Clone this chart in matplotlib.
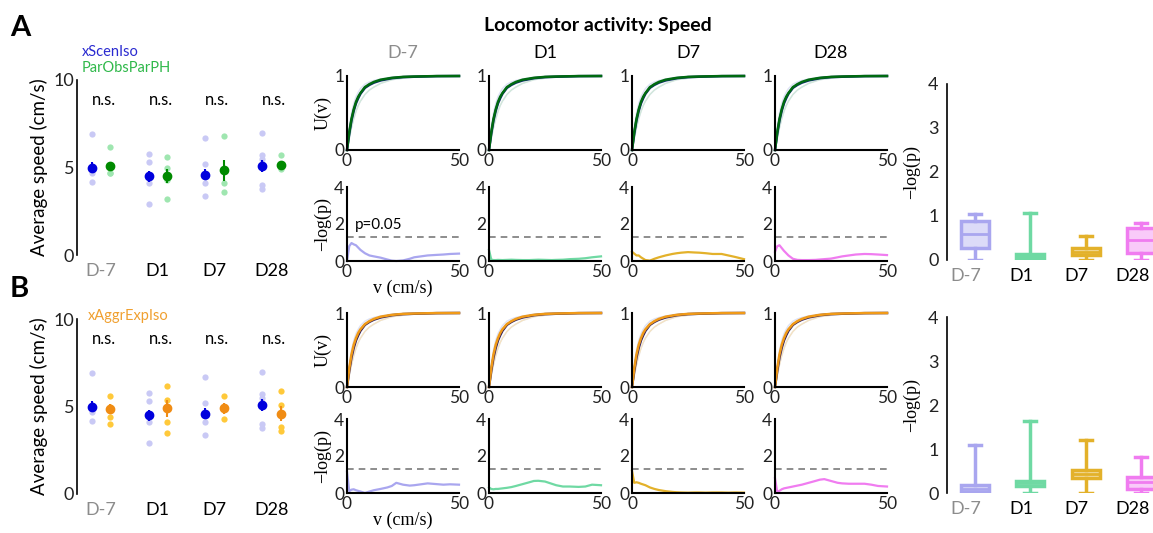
import matplotlib.pyplot as plt
import matplotlib.colors as mcolors

plt.rcParams['font.family'] = ['Lato', 'DejaVu Sans']
SERIF = ['Liberation Serif', 'DejaVu Serif']

days = ['D-7', 'D1', 'D7', 'D28']
day_colors = ['#8c8c8c', 'black', 'black', 'black']

# average speed (cm/s), individual animals
xscen_pts = [[6.9, 5.1, 4.7, 4.2], [5.8, 5.3, 4.5, 4.1, 2.9],
             [6.7, 5.2, 4.5, 4.1, 3.4], [7.0, 5.7, 5.5, 4.0, 3.8]]
parobs_pts = [[6.2, 5.1, 4.7, 4.7], [5.6, 5.0, 4.3, 3.2],
              [6.8, 4.8, 4.1, 3.6], [5.7, 5.1, 4.9]]
aggr_pts = [[5.6, 5.0, 4.4, 4.0], [6.2, 5.4, 5.0, 4.1, 3.5],
            [5.6, 5.0, 4.3], [5.9, 5.1, 3.85, 3.6]]
xscen_mean = [5.0, 4.5, 4.6, 5.1]
xscen_err = [0.3, 0.3, 0.3, 0.35]
parobs_mean = [5.1, 4.5, 4.85, 5.15]
parobs_err = [0.2, 0.4, 0.6, 0.1]
aggr_mean = [4.85, 4.9, 4.9, 4.6]
aggr_err = [0.3, 0.5, 0.3, 0.45]

# cumulative speed distributions U(v)
cdf_v = [0, 1, 2, 3, 4, 5, 6, 8, 10, 12, 15, 20, 25, 30, 40, 50]
u_xscen = [0, 0.22, 0.40, 0.53, 0.63, 0.70, 0.76, 0.84, 0.88, 0.91, 0.94, 0.97, 0.985, 0.99, 0.998, 1.0]
u_parobs = [0, 0.24, 0.42, 0.55, 0.65, 0.72, 0.77, 0.85, 0.89, 0.92, 0.95, 0.975, 0.988, 0.993, 0.999, 1.0]
u_aggr = [0, 0.25, 0.44, 0.57, 0.66, 0.73, 0.78, 0.85, 0.89, 0.92, 0.95, 0.975, 0.988, 0.993, 0.999, 1.0]
u_fast = [0, 0.30, 0.50, 0.63, 0.72, 0.78, 0.83, 0.89, 0.92, 0.94, 0.96, 0.985, 0.993, 0.997, 1.0, 1.0]
u_slow = [0, 0.15, 0.30, 0.42, 0.52, 0.60, 0.66, 0.75, 0.81, 0.85, 0.90, 0.95, 0.97, 0.985, 0.995, 1.0]

# -log(p) along speed
p_v = [0, 1, 2, 3, 4, 6, 8, 10, 12, 15, 18, 20, 22, 25, 28, 30, 33, 36, 40, 43, 46, 50]
logp_a = [
    [0.0, 0.8, 0.97, 0.9, 0.85, 0.6, 0.42, 0.3, 0.25, 0.18, 0.08, 0.02, 0.0, 0.03, 0.12, 0.2, 0.25, 0.3, 0.33, 0.35, 0.38, 0.4],
    [0.6, 0.08, 0.05, 0.05, 0.06, 0.05, 0.06, 0.07, 0.06, 0.05, 0.05, 0.06, 0.07, 0.06, 0.05, 0.06, 0.07, 0.1, 0.12, 0.15, 0.2, 0.25],
    [0.5, 0.4, 0.3, 0.3, 0.2, 0.05, 0.02, 0.12, 0.2, 0.3, 0.38, 0.42, 0.45, 0.48, 0.46, 0.45, 0.42, 0.38, 0.38, 0.3, 0.22, 0.1],
    [0.5, 0.8, 0.85, 0.7, 0.55, 0.3, 0.12, 0.06, 0.05, 0.05, 0.06, 0.08, 0.1, 0.13, 0.2, 0.25, 0.3, 0.35, 0.38, 0.37, 0.35, 0.32],
]
logp_b = [
    [1.15, 0.1, 0.18, 0.2, 0.15, 0.08, 0.0, 0.08, 0.15, 0.22, 0.3, 0.38, 0.55, 0.45, 0.4, 0.42, 0.47, 0.52, 0.48, 0.45, 0.47, 0.45],
    [0.3, 0.22, 0.2, 0.22, 0.22, 0.25, 0.28, 0.32, 0.38, 0.48, 0.58, 0.65, 0.66, 0.62, 0.5, 0.42, 0.35, 0.35, 0.33, 0.35, 0.45, 0.42],
    [1.2, 0.55, 0.58, 0.55, 0.5, 0.42, 0.3, 0.22, 0.16, 0.1, 0.06, 0.04, 0.03, 0.02, 0.03, 0.03, 0.02, 0.03, 0.03, 0.02, 0.03, 0.02],
    [0.8, 0.05, 0.12, 0.2, 0.25, 0.3, 0.35, 0.4, 0.45, 0.55, 0.65, 0.72, 0.75, 0.65, 0.55, 0.52, 0.5, 0.5, 0.5, 0.45, 0.38, 0.35],
]

# boxplot summaries of -log(p): whislo, q1, med, q3, whishi
box_a = [[0, 0.27, 0.6, 0.89, 1.04], [0, 0.04, 0.08, 0.13, 1.06],
         [0, 0.11, 0.19, 0.28, 0.55], [0, 0.15, 0.45, 0.72, 0.83]]
box_b = [[0, 0.02, 0.1, 0.19, 1.1], [0, 0.16, 0.23, 0.27, 1.63],
         [0, 0.33, 0.44, 0.53, 1.2], [0, 0.1, 0.25, 0.37, 0.82]]
box_colors = ['#a9a6ef', '#6fd9a3', '#e3b12a', '#f07cf0']

fig = plt.figure(figsize=(11.53, 5.33), dpi=100)


def px(l, t, w, h):
    return [l / 1153, 1 - (t + h) / 533, w / 1153, h / 533]


def clean(ax, lw=1.5, bottom=True):
    ax.spines['top'].set_visible(False)
    ax.spines['right'].set_visible(False)
    ax.spines['left'].set_linewidth(lw)
    ax.spines['bottom'].set_linewidth(lw)
    if not bottom:
        ax.spines['bottom'].set_visible(False)
    ax.tick_params(length=0, pad=2, labelsize=12.5, colors='#222222')


def speed_panel(top, pts, mean, err, light, dark):
    ax = fig.add_axes(px(77, top, 220, 175))
    for i in range(4):
        ax.plot([i + 1 - 0.16] * len(xscen_pts[i]), xscen_pts[i], 'o', ms=4.5, color='#c9c9f5', mec='none')
        ax.plot([i + 1 + 0.16] * len(pts[i]), pts[i], 'o', ms=4.5, color=light, mec='none')
        ax.errorbar(i + 1 - 0.16, xscen_mean[i], yerr=xscen_err[i], fmt='o', ms=6, color='#0000dd', elinewidth=1.5)
        ax.errorbar(i + 1 + 0.16, mean[i], yerr=err[i], fmt='o', ms=6, color=dark, elinewidth=1.5)
        ax.text(i + 1.05, 8.85, 'n.s.', ha='center', va='center', fontsize=12)
    ax.set_xlim(0.58, 4.45)
    ax.set_ylim(0, 10)
    ax.set_yticks([0, 5, 10])
    ax.set_xticks([1, 2, 3, 4])
    ax.set_xticklabels(days)
    clean(ax, lw=1.2, bottom=False)
    ax.tick_params(axis='x', labelsize=13, pad=6)
    ax.tick_params(axis='y', labelsize=13)
    for lab, c in zip(ax.get_xticklabels(), day_colors):
        lab.set_color(c)
    ax.set_ylabel('Average speed (cm/s)', fontsize=13.5, labelpad=4)
    return ax


speed_panel(80, parobs_pts, parobs_mean, parobs_err, '#9fe6b0', '#008a00')
speed_panel(319, aggr_pts, aggr_mean, aggr_err, '#ffc93a', '#f08c14')
fig.text(82 / 1153, 1 - 52 / 533, 'xScenIso', color='#2a2ad0', fontsize=10.5, va='center')
fig.text(82 / 1153, 1 - 68 / 533, 'ParObsParPH', color='#2fb84a', fontsize=10.5, va='center')
fig.text(88 / 1153, 1 - 316 / 533, 'xAggrExpIso', color='#f0a030', fontsize=10.5, va='center')

cols = [347, 489, 632, 775]
rows = [(76, 187, u_parobs, '#0b2a6e', '#006a10', '#cfe9d4', logp_a),
        (313, 419, u_aggr, '#2c1a5a', '#f09a18', '#fbe3b5', logp_b)]
for top_u, top_p, u_grp, ctrl_c, grp_c, light_c, logp in rows:
    for j, left in enumerate(cols):
        ax = fig.add_axes(px(left, top_u, 112, 74))
        ax.plot(cdf_v, u_fast, color='#dde2f5', lw=1, clip_on=False)
        ax.plot(cdf_v, u_slow, color='#dde2f5', lw=1, clip_on=False)
        ax.plot(cdf_v, u_slow, color=light_c, lw=1, clip_on=False, alpha=0.8)
        ax.plot(cdf_v, u_xscen, color=ctrl_c, lw=1.8, clip_on=False)
        ax.plot(cdf_v, u_grp, color=grp_c, lw=1.8, clip_on=False)
        ax.set_xlim(0, 50)
        ax.set_ylim(0, 1)
        ax.set_xticks([0, 50])
        ax.set_yticks([0, 1])
        clean(ax)
        if j == 0:
            ax.set_ylabel('U(v)', family=SERIF, fontsize=13, labelpad=2)

        ax2 = fig.add_axes(px(left, top_p, 112, 74))
        ax2.plot(p_v, logp[j], color=box_colors[j], lw=1.6, clip_on=False)
        ax2.axhline(1.3, color='#7a7a7a', lw=1.2, ls=(0, (4, 3)))
        ax2.set_xlim(0, 50)
        ax2.set_ylim(0, 4)
        ax2.set_xticks([0, 50])
        ax2.set_yticks([0, 2, 4])
        clean(ax2)
        if j == 0:
            ax2.set_ylabel('\u2212log(p)', family=SERIF, fontsize=13, labelpad=2)
            ax2.set_xlabel('v (cm/s)', family=SERIF, fontsize=13, labelpad=0)
            if top_p == 187:
                ax2.text(3.5, 1.95, 'p=0.05', fontsize=11, va='center')
        if top_u == 76:
            ax.set_title(days[j], color=day_colors[j], fontsize=13, pad=13)

for top, stats_src in [(84, box_a), (317, box_b)]:
    ax = fig.add_axes(px(947, top, 222, 176))
    stats = [{'whislo': s[0], 'q1': s[1], 'med': s[2], 'q3': s[3], 'whishi': s[4], 'fliers': []}
             for s in stats_src]
    bp = ax.bxp(stats, positions=[1.16, 2.16, 3.16, 4.16], widths=0.5, capwidths=0.22,
                patch_artist=True, showfliers=False)
    for k, c in enumerate(box_colors):
        bp['boxes'][k].set_facecolor((*mcolors.to_rgb(c), 0.4))
        bp['boxes'][k].set_edgecolor(c)
        bp['boxes'][k].set_linewidth(2.5)
        bp['medians'][k].set_color(c)
        bp['medians'][k].set_linewidth(2)
        for w in bp['whiskers'][2 * k:2 * k + 2] + bp['caps'][2 * k:2 * k + 2]:
            w.set_color(c)
            w.set_linewidth(2.5)
    ax.set_xlim(0.66, 4.66)
    ax.set_ylim(0, 4)
    ax.set_yticks([0, 1, 2, 3, 4])
    ax.set_xticks([1, 2, 3, 4])
    ax.set_xticklabels(days)
    clean(ax, lw=1.2, bottom=False)
    ax.tick_params(axis='x', labelsize=13, pad=6)
    ax.tick_params(axis='y', labelsize=13, pad=6)
    for lab, c in zip(ax.get_xticklabels(), day_colors):
        lab.set_color(c)
    ax.set_ylabel('\u2212log(p)', family=SERIF, fontsize=13)
    ax.yaxis.set_label_coords(-0.12, 0.5)

fig.text(598 / 1153, 1 - 25 / 533, 'Locomotor activity: Speed', ha='center', va='center',
         fontsize=14, fontweight='bold')
fig.text(10 / 1153, 1 - 28 / 533, 'A', fontsize=21, fontweight='bold', va='center')
fig.text(10 / 1153, 1 - 289 / 533, 'B', fontsize=21, fontweight='bold', va='center')

fig.savefig('out.png', dpi=100)
